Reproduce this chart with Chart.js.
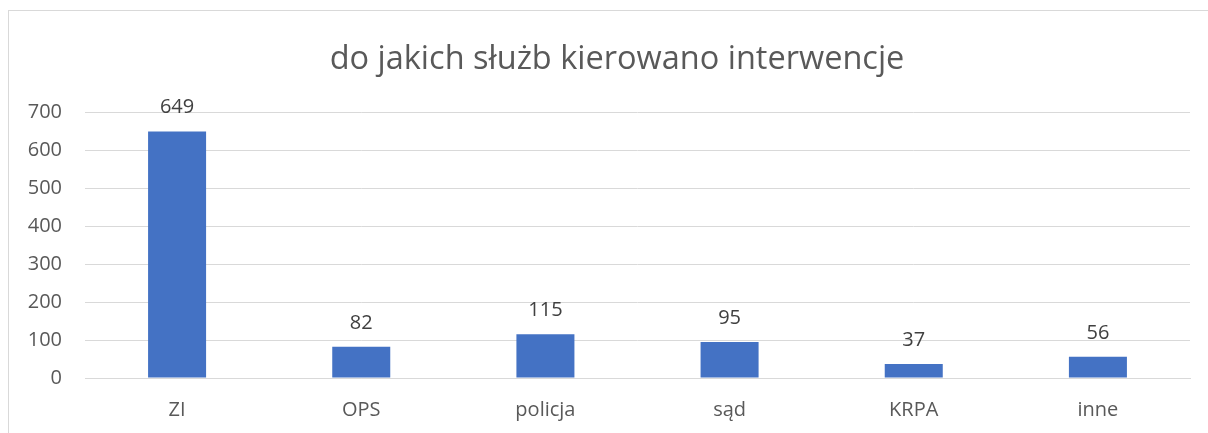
<!DOCTYPE html>
<html>
<head>
<meta charset="utf-8">
<script src="https://cdn.jsdelivr.net/npm/chart.js@4/dist/chart.umd.min.js"></script>
<style>
  body { margin: 0; background: #fff; overflow: hidden; }
  #frame {
    position: absolute; left: 8px; top: 10px;
    width: 1220px; height: 440px;
    border: 1px solid #d9d9d9;
  }
  #box { position: absolute; left: 0; top: 0; width: 1216px; height: 422px; }
</style>
</head>
<body>
<div id="frame"><div id="box"><canvas id="chart"></canvas></div></div>
<script>
const categories = ['ZI', 'OPS', 'policja', 'sąd', 'KRPA', 'inne'];
const counts = [649, 82, 115, 95, 37, 56];
const yTicks = [0, 100, 200, 300, 400, 500, 600, 700];

const textColor = '#595959';
const fontFamily = "'Open Sans', 'Noto Sans', sans-serif";

// value labels above each bar
const barLabels = {
    id: 'barLabels',
    afterDatasetsDraw(chart) {
        const ctx = chart.ctx;
        const meta = chart.getDatasetMeta(0);
        ctx.save();
        ctx.font = '20px ' + fontFamily;
        ctx.fillStyle = '#404040';
        ctx.textAlign = 'center';
        ctx.textBaseline = 'alphabetic';
        meta.data.forEach((bar, i) => {
            ctx.fillText(counts[i], bar.x, bar.y - 18);
        });
        ctx.restore();
    }
};

const ctx = document.getElementById('chart').getContext('2d');
const chart = new Chart(ctx, {
    type: 'bar',
    data: {
        labels: categories,
        datasets: [{
            data: counts,
            backgroundColor: '#4472C4',
            borderWidth: 0,
            categoryPercentage: 1,
            barPercentage: 0.315
        }]
    },
    options: {
        responsive: true,
        maintainAspectRatio: false,
        animation: false,
        layout: {
            padding: 0
        },
        plugins: {
            legend: { display: false },
            tooltip: { enabled: false },
            title: {
                display: true,
                text: 'do jakich służb kierowano interwencje',
                color: textColor,
                font: { family: fontFamily, size: 32.5, weight: 'normal' },
                padding: { top: 29, bottom: 33 }
            }
        },
        scales: {
            x: {
                afterFit(scale) { scale.height = 55; },
                grid: { display: false, drawTicks: false },
                border: { display: true, color: '#d9d9d9', width: 1 },
                ticks: {
                    color: textColor,
                    font: { family: fontFamily, size: 20 },
                    padding: 20
                }
            },
            y: {
                min: 0,
                max: 700,
                afterFit(scale) { scale.width = 76; },
                afterBuildTicks(scale) {
                    scale.ticks = yTicks.map(v => ({ value: v }));
                },
                grid: { color: '#d9d9d9', lineWidth: 1, drawTicks: false },
                border: { display: false },
                ticks: {
                    color: textColor,
                    font: { family: fontFamily, size: 20 },
                    padding: 23
                }
            },
            // empty right margin so the title stays centred on the whole frame
            yRight: {
                position: 'right',
                min: 0,
                max: 700,
                afterFit(scale) { scale.width = 35; },
                grid: { display: false, drawTicks: false },
                border: { display: false },
                ticks: { display: false }
            }
        }
    },
    plugins: [barLabels]
});
</script>
</body>
</html>
